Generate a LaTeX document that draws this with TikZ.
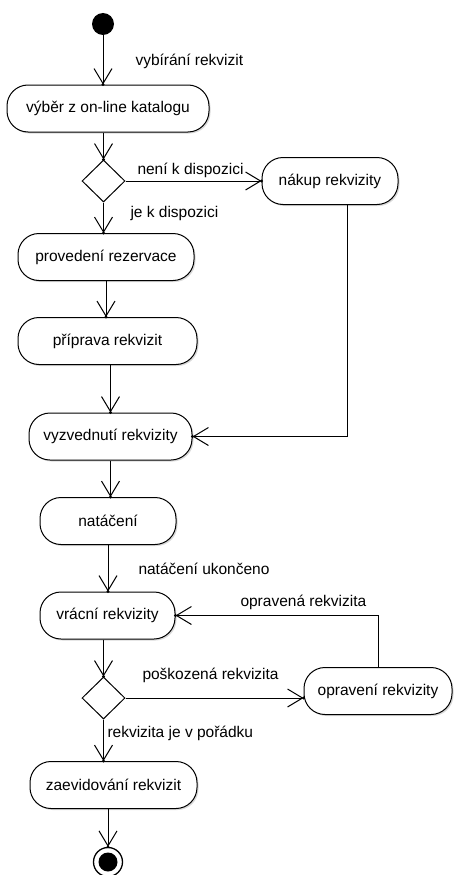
\documentclass[tikz,border=0pt]{standalone}
\usepackage{fontspec}
\setmainfont{Liberation Sans}
\usetikzlibrary{arrows.meta,shapes.geometric,shadows,decorations.markings}
\begin{document}
\begin{tikzpicture}[x=1pt,y=-1pt,
  font=\fontsize{15.5}{18}\selectfont,
  line width=1pt,
  action/.style={draw, fill=white, rounded corners=21pt, minimum height=47pt, inner sep=0pt,
    drop shadow={shadow xshift=1.5pt, shadow yshift=-1.5pt, opacity=0.3}},
  decision/.style={diamond, draw, fill=white, minimum width=43pt, minimum height=42pt, inner sep=0pt},
  flow/.style={-{Straight Barb[length=15pt,width=18pt,line width=1pt]},
    postaction={decorate, decoration={markings,
      mark=at position 1 with {\fill (0,0) circle (1.6pt);}}}},
  guard/.style={anchor=west, inner sep=0pt}
]
\useasboundingbox (0,0) rectangle (455,875);

% initial and final states
\node[circle, fill=black, minimum size=22pt, inner sep=0pt] (start) at (103,24) {};
\node[circle, draw, line width=1.3pt, fill=white, minimum size=29pt, inner sep=0pt] (end) at (108,862) {};
\fill (end) circle (9.5);

% activities
\node[action, minimum width=202pt] (vyber)      at (108,108.5) {výběr z on-line katalogu};
\node[decision]                     (d1)        at (103.5,181) {};
\node[action, minimum width=136pt] (nakup)      at (330,181)   {nákup rekvizity};
\node[action, minimum width=176pt] (provedeni)  at (106,257)   {provedení rezervace};
\node[action, minimum width=179pt] (priprava)   at (107.5,341) {příprava rekvizit};
\node[action, minimum width=163pt] (vyzvednuti) at (110.5,436.5) {vyzvednutí rekvizity};
\node[action, minimum width=136pt] (nataceni)   at (108,521)   {natáčení};
\node[action, minimum width=135pt] (vracni)     at (107.5,615.5) {vrácní rekvizity};
\node[decision]                     (d2)        at (103.5,698) {};
\node[action, minimum width=148pt] (opraveni)   at (378,691)   {opravení rekvizity};
\node[action, minimum width=167pt] (zaevid)     at (113.5,785) {zaevidování rekvizit};

% transitions
\draw[flow] (start) -- (start |- vyber.north);
\draw[flow] (d1 |- vyber.south) -- (d1.north);
\draw[flow] (d1.east) -- (d1.east -| nakup.west);
\draw[flow] (d1.south) -- (d1.south |- provedeni.north);
\draw[flow] (provedeni.south) -- (provedeni.south |- priprava.north);
\draw[flow] (vyzvednuti.north |- priprava.south) -- (vyzvednuti.north);
\draw[flow] ([xshift=17pt]nakup.south) |- (vyzvednuti.east);
\draw[flow] (vyzvednuti.south) -- (vyzvednuti.south |- nataceni.north);
\draw[flow] (nataceni.south) -- (nataceni.south |- vracni.north);
\draw[flow] (d2 |- vracni.south) -- (d2.north);
\draw[flow] (d2.east) -- (d2.east -| opraveni.west);
\draw[flow] (opraveni.north) |- (vracni.east);
\draw[flow] (d2.south) -- (d2.south |- zaevid.north);
\draw[flow] (end |- zaevid.south) -- (end.north);

% guards and transition labels
\node[guard] (l1) at (135,61)  {vybírání rekvizit};
\node[guard] (l2) at (137,170) {není k dispozici};
\node[guard] (l3) at (130,213) {je k dispozici};
\node[guard] (l4) at (138,569) {natáčení ukončeno};
\node[guard] (l5) at (240,602) {opravená rekvizita};
\node[guard] (l6) at (142,675) {poškozená rekvizita};
\node[guard] (l7) at (107,733) {rekvizita je v pořádku};
\end{tikzpicture}
\end{document}
